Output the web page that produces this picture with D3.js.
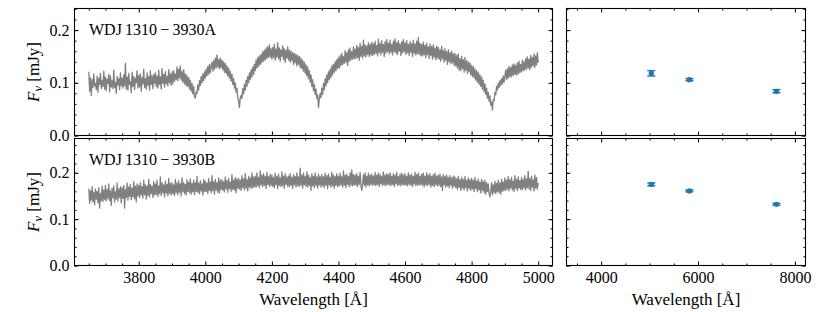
<!DOCTYPE html>
<html>
<head>
<meta charset="utf-8">
<script src="https://cdn.jsdelivr.net/npm/d3@7"></script>
<style>
  body { margin: 0; background: #fff; }
  svg text { font-family: "Liberation Serif", "DejaVu Serif", serif; }
</style>
</head>
<body>
<div id="chart"></div>
<script>
//////////
// Data //
//////////

// spectra are sampled on a regular grid, 3650 .. 5000 Å
const specStart = 3650;
const specStep = 2.5;

// WDJ 1310-3930A, flux in mJy (one row = 50 Å)
const fluxA = [
  0.121, 0.084, 0.110, 0.076, 0.106, 0.091, 0.117, 0.094, 0.099, 0.087, 0.113, 0.082, 0.109, 0.097, 0.118, 0.089, 0.104, 0.093, 0.122, 0.088,
  0.111, 0.085, 0.107, 0.099, 0.116, 0.083, 0.113, 0.092, 0.104, 0.089, 0.124, 0.091, 0.101, 0.080, 0.112, 0.096, 0.108, 0.087, 0.119, 0.094,
  0.109, 0.090, 0.115, 0.094, 0.137, 0.088, 0.111, 0.086, 0.118, 0.097, 0.102, 0.081, 0.120, 0.093, 0.112, 0.087, 0.109, 0.100, 0.123, 0.090,
  0.114, 0.092, 0.117, 0.084, 0.110, 0.098, 0.126, 0.091, 0.108, 0.088, 0.119, 0.095, 0.112, 0.086, 0.123, 0.097, 0.113, 0.089, 0.116, 0.099,
  0.119, 0.093, 0.113, 0.090, 0.124, 0.097, 0.111, 0.088, 0.127, 0.099, 0.116, 0.092, 0.121, 0.098, 0.112, 0.094, 0.125, 0.100, 0.117, 0.095,
  0.121, 0.098, 0.123, 0.103, 0.117, 0.106, 0.130, 0.104, 0.126, 0.109, 0.132, 0.105, 0.121, 0.101, 0.125, 0.098, 0.117, 0.094, 0.114, 0.093,
  0.110, 0.088, 0.105, 0.084, 0.099, 0.079, 0.093, 0.074, 0.071, 0.083, 0.079, 0.096, 0.086, 0.104, 0.095, 0.112, 0.100, 0.117, 0.104, 0.121,
  0.109, 0.126, 0.113, 0.131, 0.116, 0.135, 0.119, 0.132, 0.139, 0.122, 0.142, 0.126, 0.147, 0.128, 0.153, 0.130, 0.144, 0.127, 0.147, 0.129,
  0.143, 0.125, 0.140, 0.120, 0.137, 0.118, 0.132, 0.113, 0.128, 0.109, 0.122, 0.103, 0.116, 0.097, 0.108, 0.090, 0.100, 0.082, 0.090, 0.071,
  0.066, 0.053, 0.072, 0.076, 0.070, 0.089, 0.079, 0.097, 0.086, 0.105, 0.093, 0.112, 0.100, 0.119, 0.106, 0.125, 0.111, 0.130, 0.116, 0.135,
  0.123, 0.143, 0.128, 0.148, 0.131, 0.151, 0.135, 0.154, 0.138, 0.159, 0.141, 0.162, 0.143, 0.166, 0.146, 0.168, 0.148, 0.172, 0.149, 0.165,
  0.145, 0.167, 0.148, 0.173, 0.143, 0.164, 0.149, 0.176, 0.146, 0.166, 0.141, 0.163, 0.150, 0.170, 0.144, 0.165, 0.139, 0.162, 0.147, 0.168,
  0.143, 0.162, 0.139, 0.160, 0.142, 0.157, 0.135, 0.156, 0.138, 0.154, 0.132, 0.152, 0.135, 0.150, 0.129, 0.147, 0.127, 0.143, 0.122, 0.139,
  0.118, 0.134, 0.113, 0.130, 0.108, 0.123, 0.101, 0.115, 0.093, 0.106, 0.085, 0.097, 0.078, 0.088, 0.070, 0.077, 0.053, 0.069, 0.080, 0.072,
  0.090, 0.078, 0.099, 0.087, 0.108, 0.094, 0.115, 0.100, 0.121, 0.106, 0.126, 0.110, 0.132, 0.115, 0.135, 0.120, 0.140, 0.123, 0.144, 0.127,
  0.148, 0.128, 0.152, 0.132, 0.156, 0.135, 0.150, 0.137, 0.161, 0.139, 0.157, 0.133, 0.163, 0.141, 0.166, 0.143, 0.159, 0.145, 0.168, 0.146,
  0.164, 0.146, 0.171, 0.148, 0.167, 0.143, 0.175, 0.150, 0.169, 0.147, 0.181, 0.151, 0.172, 0.149, 0.170, 0.154, 0.176, 0.150, 0.173, 0.153,
  0.177, 0.152, 0.174, 0.154, 0.179, 0.156, 0.171, 0.151, 0.183, 0.157, 0.175, 0.153, 0.180, 0.158, 0.173, 0.150, 0.178, 0.156, 0.182, 0.159,
  0.175, 0.155, 0.181, 0.158, 0.173, 0.153, 0.179, 0.159, 0.184, 0.156, 0.176, 0.154, 0.180, 0.160, 0.174, 0.152, 0.178, 0.157, 0.182, 0.159,
  0.176, 0.154, 0.180, 0.157, 0.173, 0.152, 0.178, 0.158, 0.175, 0.150, 0.181, 0.156, 0.174, 0.153, 0.179, 0.155, 0.186, 0.154, 0.175, 0.151,
  0.173, 0.151, 0.177, 0.153, 0.171, 0.148, 0.175, 0.154, 0.168, 0.146, 0.174, 0.152, 0.169, 0.145, 0.172, 0.149, 0.166, 0.144, 0.170, 0.147,
  0.167, 0.145, 0.163, 0.141, 0.169, 0.146, 0.161, 0.139, 0.165, 0.143, 0.159, 0.135, 0.163, 0.140, 0.157, 0.136, 0.160, 0.138, 0.155, 0.133,
  0.156, 0.132, 0.152, 0.128, 0.155, 0.124, 0.146, 0.123, 0.150, 0.127, 0.144, 0.120, 0.148, 0.124, 0.142, 0.118, 0.140, 0.121, 0.138, 0.115,
  0.133, 0.112, 0.131, 0.109, 0.127, 0.105, 0.123, 0.101, 0.120, 0.097, 0.115, 0.093, 0.111, 0.088, 0.105, 0.083, 0.098, 0.078, 0.090, 0.071,
  0.082, 0.065, 0.075, 0.057, 0.064, 0.048, 0.068, 0.066, 0.082, 0.077, 0.093, 0.086, 0.099, 0.091, 0.104, 0.095, 0.108, 0.098, 0.113, 0.101,
  0.112, 0.124, 0.106, 0.127, 0.109, 0.131, 0.111, 0.129, 0.112, 0.134, 0.114, 0.136, 0.116, 0.133, 0.115, 0.138, 0.117, 0.141, 0.119, 0.135,
  0.121, 0.143, 0.123, 0.140, 0.124, 0.146, 0.126, 0.149, 0.128, 0.145, 0.125, 0.152, 0.130, 0.148, 0.132, 0.155, 0.129, 0.151, 0.134, 0.157,
  0.138
];

// WDJ 1310-3930B, flux in mJy
const fluxB = [
  0.166, 0.134, 0.161, 0.141, 0.170, 0.137, 0.158, 0.131, 0.165, 0.143, 0.160, 0.135, 0.168, 0.124, 0.155, 0.140, 0.171, 0.138, 0.163, 0.142,
  0.173, 0.139, 0.164, 0.144, 0.176, 0.140, 0.161, 0.130, 0.167, 0.146, 0.172, 0.137, 0.159, 0.143, 0.178, 0.139, 0.165, 0.147, 0.170, 0.135,
  0.168, 0.145, 0.173, 0.124, 0.164, 0.147, 0.178, 0.141, 0.170, 0.149, 0.175, 0.142, 0.167, 0.148, 0.181, 0.144, 0.171, 0.137, 0.176, 0.150,
  0.173, 0.147, 0.179, 0.152, 0.170, 0.145, 0.184, 0.153, 0.174, 0.143, 0.172, 0.151, 0.186, 0.148, 0.175, 0.155, 0.171, 0.147, 0.181, 0.152,
  0.176, 0.153, 0.184, 0.149, 0.172, 0.155, 0.191, 0.151, 0.178, 0.157, 0.174, 0.148, 0.182, 0.156, 0.175, 0.150, 0.188, 0.155, 0.177, 0.152,
  0.179, 0.155, 0.174, 0.151, 0.186, 0.157, 0.178, 0.153, 0.183, 0.158, 0.176, 0.150, 0.189, 0.159, 0.179, 0.155, 0.175, 0.152, 0.185, 0.160,
  0.180, 0.157, 0.187, 0.154, 0.177, 0.159, 0.184, 0.153, 0.179, 0.160, 0.192, 0.158, 0.178, 0.155, 0.183, 0.161, 0.176, 0.152, 0.186, 0.159,
  0.182, 0.160, 0.178, 0.155, 0.188, 0.162, 0.180, 0.157, 0.194, 0.161, 0.181, 0.154, 0.186, 0.163, 0.179, 0.158, 0.189, 0.156, 0.184, 0.164,
  0.185, 0.162, 0.181, 0.159, 0.191, 0.165, 0.183, 0.158, 0.188, 0.166, 0.180, 0.160, 0.196, 0.164, 0.184, 0.163, 0.190, 0.157, 0.187, 0.167,
  0.188, 0.165, 0.184, 0.162, 0.194, 0.168, 0.187, 0.163, 0.198, 0.167, 0.185, 0.161, 0.192, 0.169, 0.189, 0.166, 0.200, 0.168, 0.191, 0.170,
  0.193, 0.169, 0.200, 0.172, 0.190, 0.168, 0.204, 0.174, 0.195, 0.170, 0.198, 0.173, 0.192, 0.166, 0.201, 0.175, 0.191, 0.171, 0.197, 0.172,
  0.195, 0.171, 0.190, 0.168, 0.199, 0.174, 0.192, 0.166, 0.197, 0.173, 0.189, 0.170, 0.202, 0.172, 0.193, 0.167, 0.198, 0.175, 0.191, 0.171,
  0.193, 0.170, 0.198, 0.173, 0.190, 0.166, 0.196, 0.174, 0.192, 0.169, 0.200, 0.172, 0.191, 0.171, 0.210, 0.173, 0.195, 0.167, 0.199, 0.174,
  0.192, 0.171, 0.202, 0.169, 0.195, 0.173, 0.190, 0.162, 0.198, 0.172, 0.193, 0.168, 0.200, 0.173, 0.191, 0.167, 0.197, 0.174, 0.192, 0.169,
  0.196, 0.172, 0.191, 0.168, 0.199, 0.173, 0.194, 0.166, 0.197, 0.174, 0.190, 0.169, 0.201, 0.172, 0.195, 0.167, 0.192, 0.173, 0.198, 0.170,
  0.193, 0.172, 0.199, 0.174, 0.191, 0.169, 0.204, 0.173, 0.195, 0.168, 0.197, 0.175, 0.192, 0.170, 0.200, 0.173, 0.206, 0.172, 0.196, 0.174,
  0.195, 0.173, 0.198, 0.170, 0.192, 0.175, 0.201, 0.172, 0.162, 0.176, 0.196, 0.173, 0.200, 0.169, 0.193, 0.174, 0.199, 0.172, 0.195, 0.175,
  0.197, 0.173, 0.193, 0.174, 0.201, 0.172, 0.195, 0.175, 0.199, 0.170, 0.196, 0.176, 0.192, 0.173, 0.202, 0.174, 0.195, 0.172, 0.198, 0.175,
  0.196, 0.174, 0.200, 0.172, 0.193, 0.175, 0.198, 0.170, 0.195, 0.176, 0.201, 0.173, 0.192, 0.174, 0.197, 0.172, 0.199, 0.175, 0.195, 0.173,
  0.198, 0.174, 0.193, 0.172, 0.200, 0.175, 0.195, 0.173, 0.197, 0.170, 0.192, 0.176, 0.201, 0.172, 0.196, 0.174, 0.199, 0.173, 0.193, 0.175,
  0.197, 0.173, 0.199, 0.170, 0.193, 0.174, 0.200, 0.172, 0.195, 0.175, 0.198, 0.169, 0.192, 0.173, 0.196, 0.170, 0.199, 0.174, 0.193, 0.172,
  0.195, 0.173, 0.197, 0.170, 0.191, 0.162, 0.196, 0.174, 0.192, 0.169, 0.195, 0.172, 0.190, 0.168, 0.194, 0.173, 0.189, 0.167, 0.193, 0.171,
  0.191, 0.168, 0.187, 0.164, 0.193, 0.169, 0.185, 0.162, 0.190, 0.167, 0.186, 0.163, 0.192, 0.168, 0.184, 0.161, 0.189, 0.166, 0.185, 0.162,
  0.188, 0.165, 0.184, 0.160, 0.190, 0.166, 0.182, 0.159, 0.187, 0.163, 0.180, 0.156, 0.186, 0.162, 0.181, 0.157, 0.184, 0.154, 0.179, 0.160,
  0.176, 0.155, 0.148, 0.160, 0.179, 0.153, 0.174, 0.157, 0.182, 0.155, 0.177, 0.159, 0.184, 0.157, 0.178, 0.154, 0.186, 0.160, 0.180, 0.162,
  0.189, 0.162, 0.184, 0.165, 0.192, 0.161, 0.185, 0.167, 0.190, 0.163, 0.182, 0.160, 0.194, 0.166, 0.186, 0.162, 0.191, 0.167, 0.183, 0.164,
  0.190, 0.164, 0.186, 0.167, 0.194, 0.163, 0.187, 0.168, 0.203, 0.165, 0.188, 0.162, 0.193, 0.169, 0.185, 0.161, 0.195, 0.167, 0.190, 0.165,
  0.178
];

// photometry (BP, G, RP)
const photWave = [5035, 5822, 7619];
const photA = [0.118, 0.106, 0.084];
const photAErr = [0.005, 0.002, 0.003];
const photB = [0.175, 0.161, 0.132];
const photBErr = [0.003, 0.002, 0.002];

const names = ["WDJ\u20091310\u2009\u2212\u20093930A", "WDJ\u20091310\u2009\u2212\u20093930B"];
const specTicks = [3800, 4000, 4200, 4400, 4600, 4800, 5000];
const photTicks = [4000, 6000, 8000];
const fluxTicks = [0.0, 0.1, 0.2];

////////////
// Layout //
////////////

const W = 830, H = 312;
const fontSize = 16;
const fontFamily = '"Liberation Serif", "DejaVu Serif", serif';
const specColor = "#808080", photColor = "#1f77b4";

const svg = d3.select("#chart").append("svg")
    .attr("width", W)
    .attr("height", H);

const xSpec = d3.scaleLinear().domain([3607, 5043]).range([74.5, 552.5]);
const xPhot = d3.scaleLinear().domain([3284, 8219]).range([566.5, 805.5]);

// one entry per row: y scale + data
const rows = [
  {y: d3.scaleLinear().domain([0, 0.241]).range([135.5, 8.5]), flux: fluxA,
   phot: photA, err: photAErr, name: names[0], yMax: 0.24},
  {y: d3.scaleLinear().domain([0, 0.274]).range([265.5, 138.5]), flux: fluxB,
   phot: photB, err: photBErr, name: names[1], yMax: 0.26}
];

const noDomain = g => g.select(".domain").remove();

// inward ticks on all four sides, labels only where asked
const drawAxes = (g, xs, ys, xMajor, xMinor, yMinorMax, xLabels, yLabels) => {
  const [x0, x1] = xs.range();
  const [y0, y1] = ys.range();
  const yMinor = d3.range(0, yMinorMax + 1e-9, 0.02);

  const axes = [
    [d3.axisBottom(xs).tickValues(xMajor).tickSize(-4).tickPadding(6)
        .tickFormat(xLabels ? d3.format("d") : ""), `translate(0,${y0})`],
    [d3.axisBottom(xs).tickValues(xMinor).tickSize(-2).tickFormat(""), `translate(0,${y0})`],
    [d3.axisTop(xs).tickValues(xMajor).tickSize(-4).tickFormat(""), `translate(0,${y1})`],
    [d3.axisTop(xs).tickValues(xMinor).tickSize(-2).tickFormat(""), `translate(0,${y1})`],
    [d3.axisLeft(ys).tickValues(fluxTicks).tickSize(-4).tickPadding(5)
        .tickFormat(yLabels ? d3.format(".1f") : ""), `translate(${x0},0)`],
    [d3.axisLeft(ys).tickValues(yMinor).tickSize(-2).tickFormat(""), `translate(${x0},0)`],
    [d3.axisRight(ys).tickValues(fluxTicks).tickSize(-4).tickFormat(""), `translate(${x1},0)`],
    [d3.axisRight(ys).tickValues(yMinor).tickSize(-2).tickFormat(""), `translate(${x1},0)`]
  ];
  axes.forEach(([ax, tr]) => {
    g.append("g")
        .attr("transform", tr)
        .call(ax)
        .attr("font-size", fontSize)
        .attr("font-family", fontFamily)
        .call(noDomain)
        .call(a => a.selectAll("line").attr("stroke", "#000").attr("stroke-width", 1))
        .call(a => a.selectAll("text").attr("fill", "#000"));
  });

  g.append("rect")
      .attr("x", x0).attr("y", y1)
      .attr("width", x1 - x0).attr("height", y0 - y1)
      .attr("fill", "none")
      .attr("stroke", "#000")
      .attr("stroke-width", 1.1);
};

const specMinor = d3.range(3650, 5043, 50).filter(v => v % 200 !== 0);
const photMinor = d3.range(3500, 8219, 500).filter(v => v % 2000 !== 0);

rows.forEach((row, i) => {
  const last = i === rows.length - 1;
  const pts = row.flux.map((f, k) => [specStart + k * specStep, f]);

  // spectrum
  const left = svg.append("g");
  left.append("path")
      .datum(pts)
      .attr("fill", "none")
      .attr("stroke", specColor)
      .attr("stroke-width", 1.3)
      .attr("stroke-linejoin", "round")
      .attr("d", d3.line().x(d => xSpec(d[0])).y(d => row.y(d[1])));
  drawAxes(left, xSpec, row.y, specTicks, specMinor, row.yMax, last, true);

  left.append("text")
      .attr("x", 89).attr("y", row.y.range()[1] + 26)
      .attr("font-size", fontSize)
      .text(row.name);

  // y label
  const yMid = (row.y.range()[0] + row.y.range()[1]) / 2;
  const yl = left.append("text")
      .attr("transform", `translate(39,${yMid}) rotate(-90)`)
      .attr("text-anchor", "middle")
      .attr("font-size", 17);
  yl.append("tspan").attr("font-style", "italic").text("F");
  yl.append("tspan").attr("font-style", "italic").attr("font-size", 12.5).attr("dy", 3).text("\u03bd");
  yl.append("tspan").attr("dy", -3).text(" [mJy]");

  // photometry
  const right = svg.append("g");
  const dat = photWave.map((w, k) => ({w: w, f: row.phot[k], e: row.err[k]}));
  const eb = right.selectAll("g.eb").data(dat).enter().append("g")
      .attr("class", "eb")
      .attr("stroke", photColor)
      .attr("stroke-width", 1.5);
  eb.append("line")
      .attr("x1", d => xPhot(d.w)).attr("x2", d => xPhot(d.w))
      .attr("y1", d => row.y(d.f - d.e)).attr("y2", d => row.y(d.f + d.e));
  [-1, 1].forEach(s => {
    eb.append("line")
        .attr("x1", d => xPhot(d.w) - 4).attr("x2", d => xPhot(d.w) + 4)
        .attr("y1", d => row.y(d.f + s * d.e)).attr("y2", d => row.y(d.f + s * d.e));
  });
  eb.append("circle")
      .attr("cx", d => xPhot(d.w)).attr("cy", d => row.y(d.f))
      .attr("r", 2.6)
      .attr("fill", photColor)
      .attr("stroke", "none");
  drawAxes(right, xPhot, row.y, photTicks, photMinor, row.yMax, last, false);
});

// x labels
[xSpec, xPhot].forEach(xs => {
  const [a, b] = xs.range();
  svg.append("text")
      .attr("x", (a + b) / 2).attr("y", 305)
      .attr("text-anchor", "middle")
      .attr("font-size", 17)
      .text("Wavelength [\u00c5]");
});
</script>
</body>
</html>
